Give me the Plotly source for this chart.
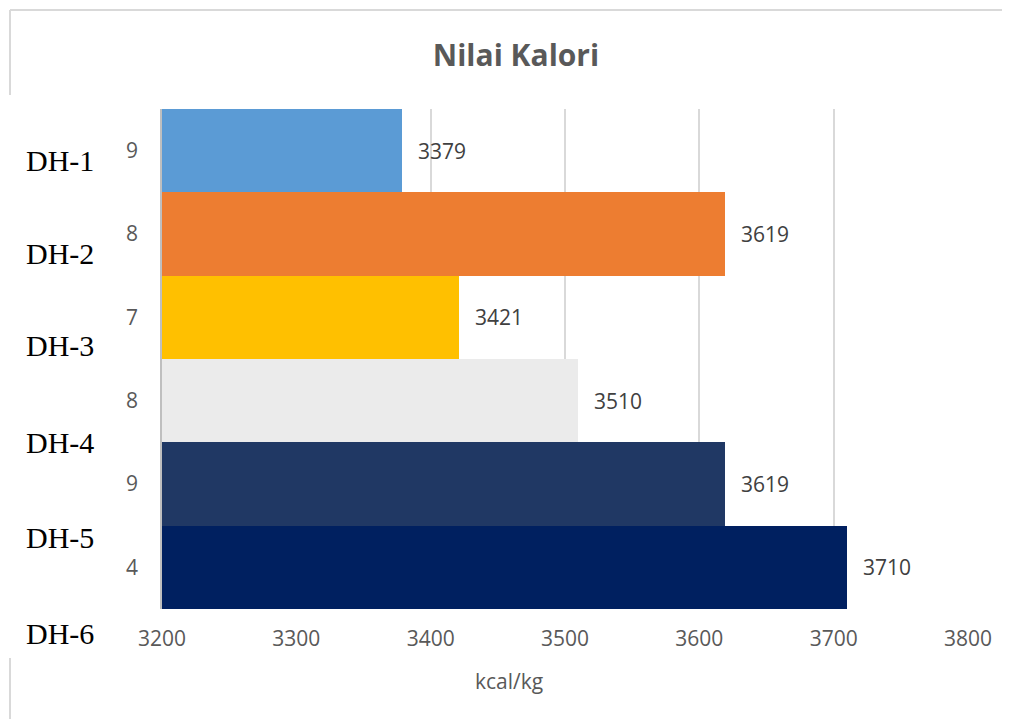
import plotly.graph_objects as go

categories = ["DH-1", "DH-2", "DH-3", "DH-4", "DH-5", "DH-6"]
values = [3379, 3619, 3421, 3510, 3619, 3710]
tick_labels = ["9", "8", "7", "8", "9", "4"]
colors = ["#5B9BD5", "#ED7D31", "#FFC000", "#EBEBEB", "#203864", "#002060"]
x_ticks = [3200, 3300, 3400, 3500, 3600, 3700, 3800]
base_value = 3200
axis_title = "kcal/kg"
chart_title = "Nilai Kalori"

OFF = 8  # page body margin
W, H = 1010, 719
L, T = 162 - OFF, 109 - OFF
pw, ph = 806, 500
R, B = W - L - pw, H - T - ph

def px(x):
    return (x - OFF - L) / pw

def py(y):
    return (T + ph - (y - OFF)) / ph

fig = go.Figure()
fig.add_trace(go.Bar(
    y=categories,
    x=[v - base_value for v in values],
    base=base_value,
    orientation="h",
    marker=dict(color=colors, line=dict(width=0)),
    showlegend=False,
    hoverinfo="skip",
))

annotations = []
for c, v in zip(categories, values):
    annotations.append(dict(
        x=v, y=c, xref="x", yref="y", text=str(v), showarrow=False,
        xanchor="left", xshift=14,
        font=dict(family="Open Sans", size=21, color="#404040"),
    ))

dh_y = [160, 253, 345, 443, 537, 633]
for c, yy in zip(categories, dh_y):
    annotations.append(dict(
        x=px(24), y=py(yy), xref="paper", yref="paper", text=c, showarrow=False,
        xanchor="left", yanchor="middle",
        font=dict(family="Liberation Serif", size=30, color="#000000"),
    ))

annotations.append(dict(
    x=px(509), y=py(681), xref="paper", yref="paper", text=axis_title, showarrow=False,
    xanchor="center", yanchor="middle",
    font=dict(family="Open Sans", size=21, color="#595959"),
))

frame_color = "#D9D9D9"
shapes = [
    dict(type="line", xref="paper", yref="paper", x0=px(10), x1=px(1030), y0=py(10), y1=py(10),
         line=dict(color=frame_color, width=2)),
    dict(type="line", xref="paper", yref="paper", x0=px(10), x1=px(10), y0=py(10), y1=py(95),
         line=dict(color=frame_color, width=2)),
    dict(type="line", xref="paper", yref="paper", x0=px(10), x1=px(10), y0=py(658), y1=py(740),
         line=dict(color=frame_color, width=2)),
]

fig.update_layout(
    width=W, height=H,
    margin=dict(l=L, r=R, t=T, b=B),
    paper_bgcolor="white", plot_bgcolor="white",
    bargap=0,
    title=dict(text="<b>" + chart_title + "</b>", xref="container", x=(516 - OFF) / W, xanchor="center",
               yref="container", y=(H - (55 - OFF)) / H, yanchor="middle",
               font=dict(family="Open Sans", size=30, color="#595959")),
    xaxis=dict(
        range=[3200, 3800], tickvals=x_ticks, showgrid=True, gridcolor="#D9D9D9", gridwidth=1.5,
        zeroline=False, showline=False, ticks="", ticklabelstandoff=15,
        tickfont=dict(family="Open Sans", size=21, color="#595959"),
    ),
    yaxis=dict(
        categoryorder="array", categoryarray=categories, autorange="reversed",
        tickvals=categories, ticktext=tick_labels, showgrid=False, zeroline=False,
        showline=True, linecolor="#BFBFBF", linewidth=1.5, ticks="", ticklabelstandoff=18,
        tickfont=dict(family="Open Sans", size=21, color="#595959"),
    ),
    annotations=annotations,
    shapes=shapes,
)

fig.write_html("out.html")
